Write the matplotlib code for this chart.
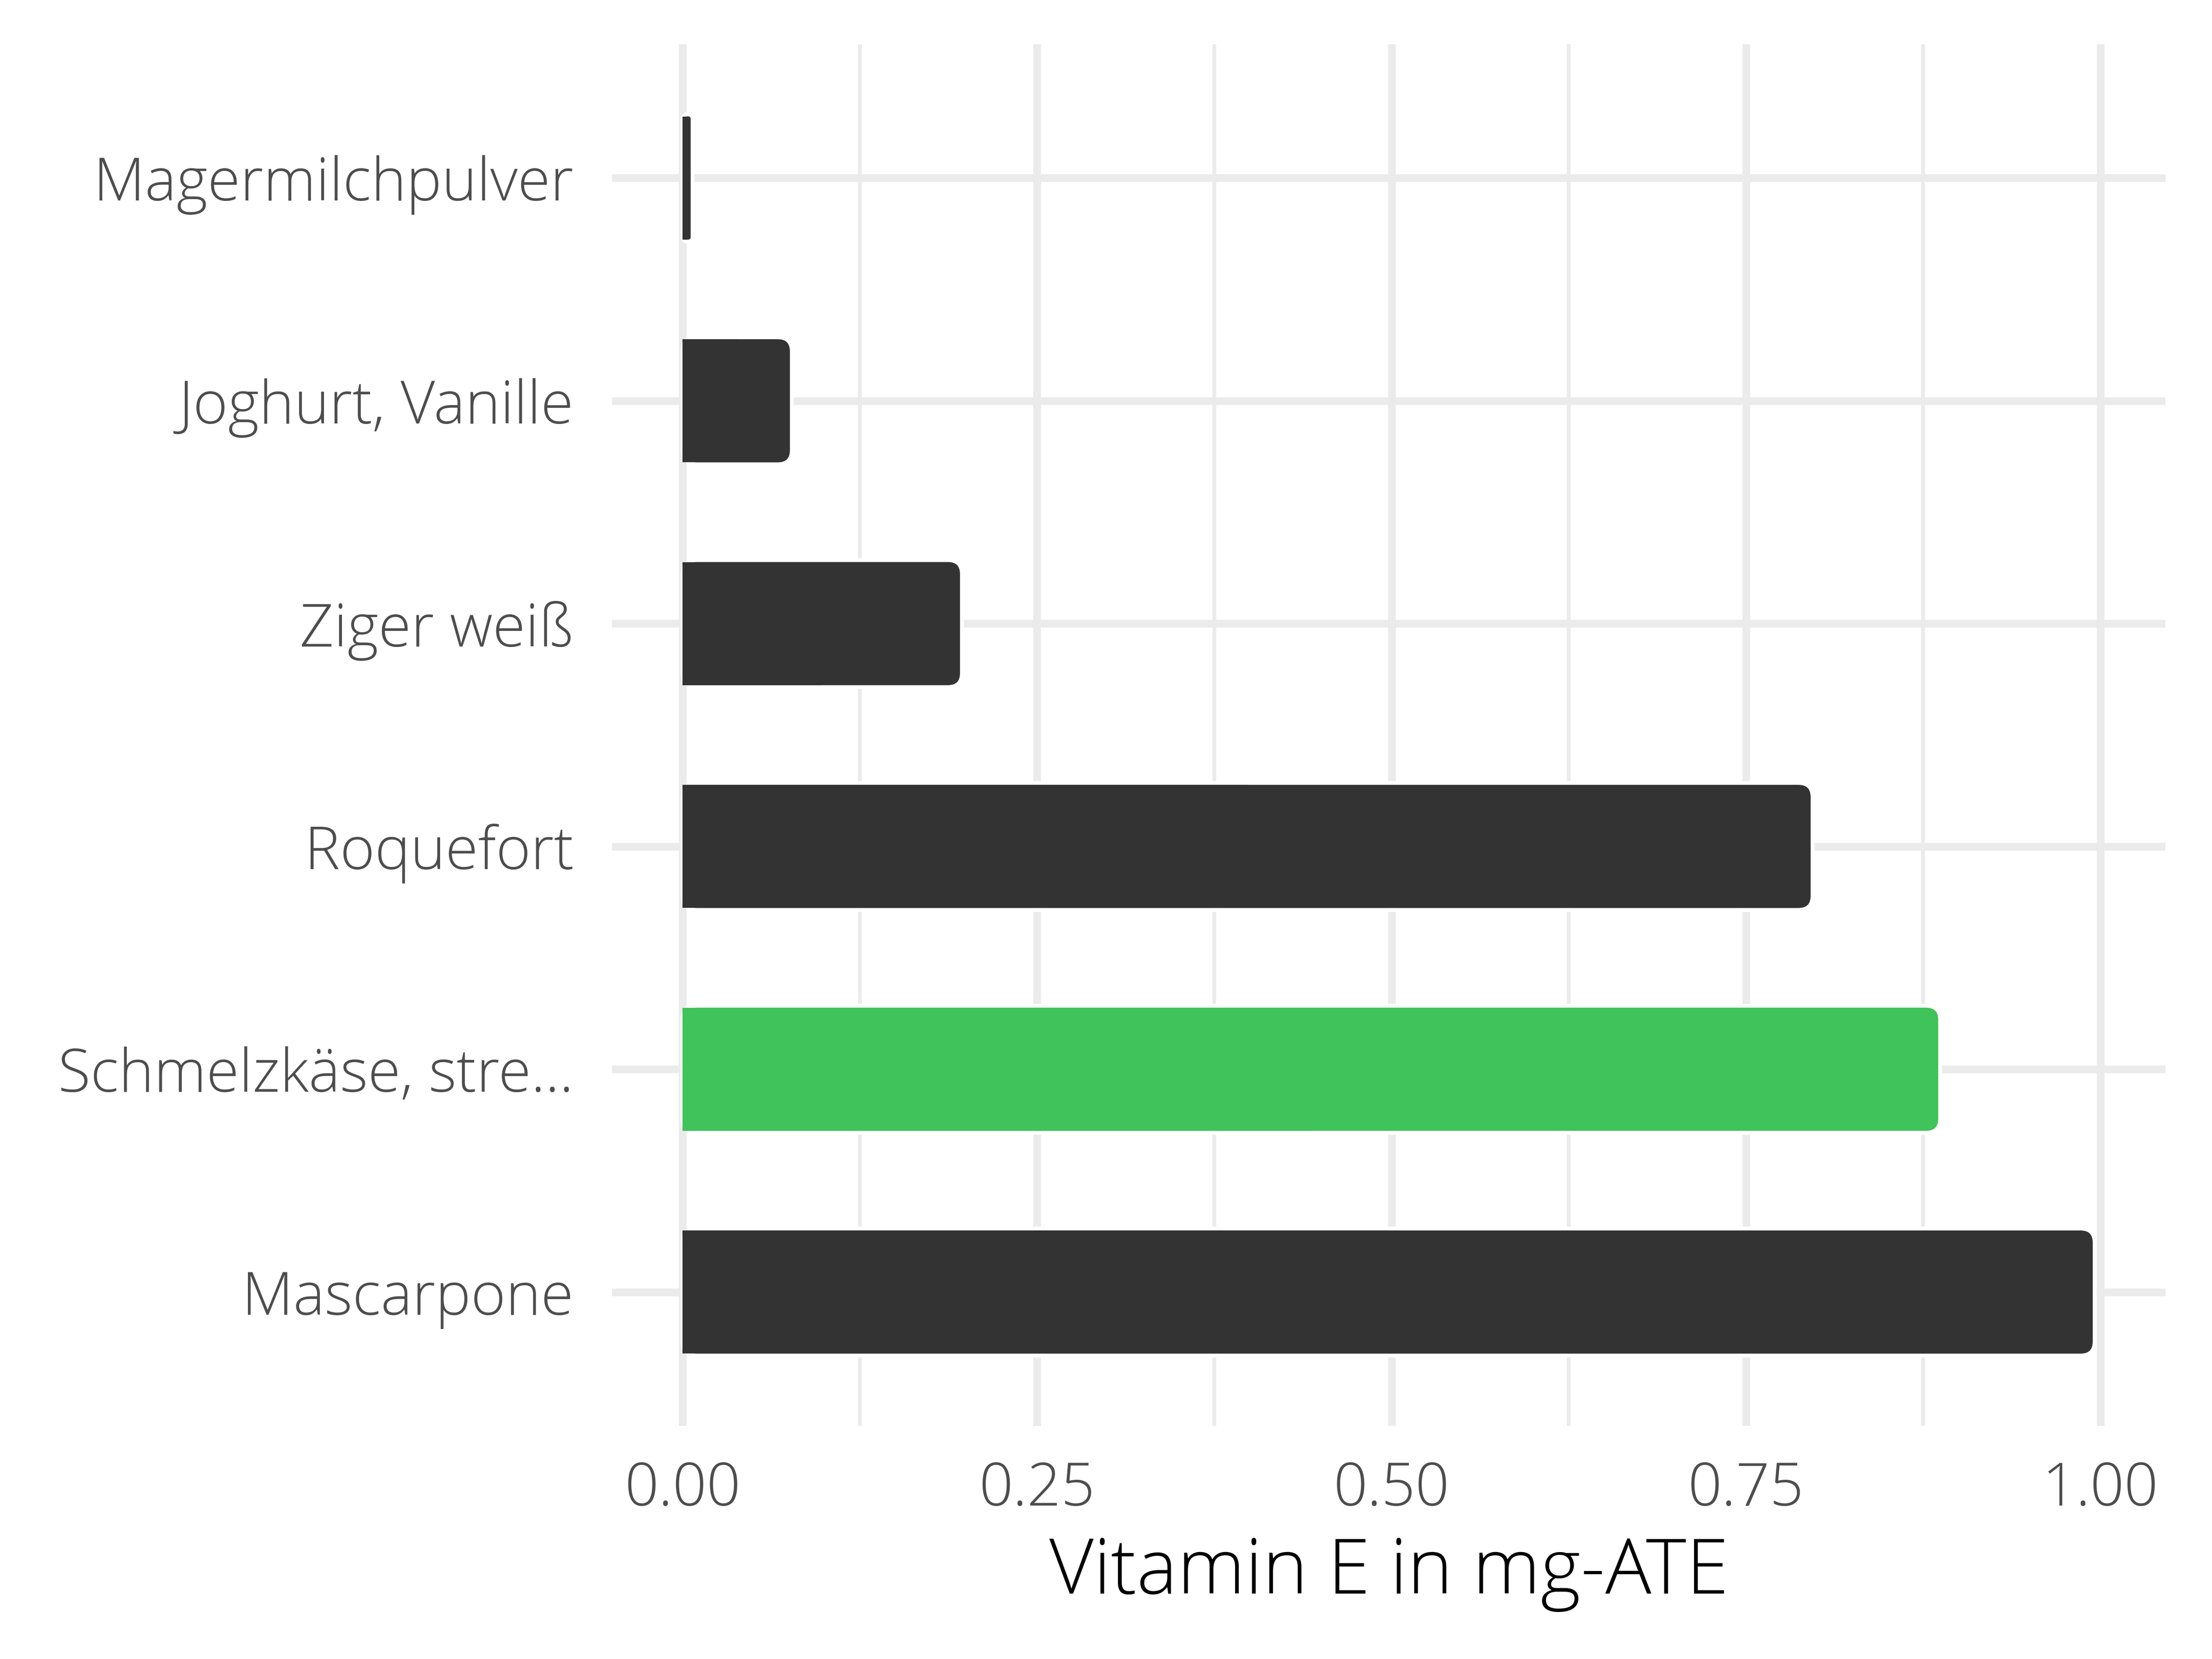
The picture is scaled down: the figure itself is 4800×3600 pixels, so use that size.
import matplotlib
matplotlib.use("Agg")
import matplotlib.pyplot as plt
from matplotlib.patches import FancyBboxPatch
from matplotlib.ticker import MultipleLocator

# data, top to bottom as in the chart
foods = ["Magermilchpulver", "Joghurt, Vanille", "Ziger weiß", "Roquefort",
         "Schmelzkäse, stre...", "Mascarpone"]
vitamin_e = [0.007, 0.077, 0.197, 0.797, 0.887, 0.996]
highlight = "Schmelzkäse, stre..."

dark = "#333333"
green = "#3fc35a"
grid_col = "#ebebeb"
txt_col = "#4d4d4d"

plt.rcParams["font.family"] = ["Open Sans", "DejaVu Sans"]

fig = plt.figure(figsize=(16, 12), dpi=300)
ax = fig.add_axes([0.2767, 0.1406, 0.979 - 0.2767, 0.9733 - 0.1406])

ypos = list(range(len(foods), 0, -1))
h = 0.57
xlim = (-0.0498, 1.046)
ylim = (0.4, 6.6)
ax.set_xlim(*xlim)
ax.set_ylim(*ylim)

# data units per pixel, for round corners and edge compensation
bbox = ax.get_position()
px_w = bbox.width * 4800
px_h = bbox.height * 3600
dy_px = (ylim[1] - ylim[0]) / px_h
dx_px = (xlim[1] - xlim[0]) / px_w
aspect = dy_px / dx_px

edge_lw = 2.0
inner = edge_lw / 2 / 72 * 300 * dy_px  # half edge width in y data units

pad = 0.01
for y, v, name in zip(ypos, vitamin_e, foods):
    col = green if name == highlight else dark
    rad = min(pad, v / 2 * 0.9)
    p = FancyBboxPatch((rad, y - h / 2 + rad * aspect), v - 2 * rad, h - 2 * rad * aspect,
                       boxstyle=f"round,pad={rad}", mutation_aspect=aspect,
                       fc=col, ec="white", lw=edge_lw, zorder=3)
    ax.add_patch(p)
    # square off the left end
    ax.barh(y, v / 2, height=h - 2 * inner, left=0, color=col, lw=0, zorder=4)

ax.set_yticks(ypos)
ax.set_yticklabels(foods)
ax.xaxis.set_minor_locator(MultipleLocator(0.125))
ax.set_xticks([0, 0.25, 0.5, 0.75, 1.0])
ax.set_xticklabels(["0.00", "0.25", "0.50", "0.75", "1.00"])

ax.grid(True, which="major", color=grid_col, lw=4, zorder=0)
ax.grid(True, which="minor", axis="x", color=grid_col, lw=2, zorder=0)
ax.set_axisbelow(True)
for s in ax.spines.values():
    s.set_visible(False)
ax.tick_params(axis="both", which="both", length=0)
ax.tick_params(axis="y", pad=20, labelsize=31, labelcolor=txt_col)
ax.tick_params(axis="x", pad=18, labelsize=31, labelcolor=txt_col)
for lab in ax.get_xticklabels() + ax.get_yticklabels():
    lab.set_fontweight("light")

ax.set_xlabel("Vitamin E in mg-ATE", fontsize=40, color="black",
              fontweight="light", labelpad=8)

fig.savefig("out.png", dpi=300, facecolor="white")
